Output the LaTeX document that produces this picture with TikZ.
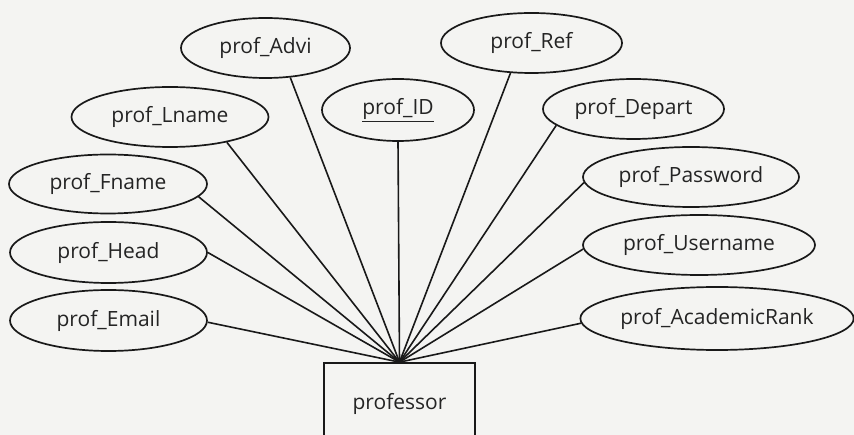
\documentclass[tikz,border=0pt]{standalone}
\usepackage{fontspec}
\setmainfont{Open Sans}
\usetikzlibrary{shapes.geometric}
\definecolor{paper}{RGB}{244,244,242}
\definecolor{ink}{RGB}{25,25,25}
\begin{document}
\begin{tikzpicture}[x=1pt,y=-1pt,
  attr/.style={ellipse,draw=ink,line width=1.7pt,inner sep=0pt,font=\fontsize{21}{24}\selectfont,text=ink!95},
  ent/.style={rectangle,draw=ink,line width=1.7pt,inner sep=0pt,font=\fontsize{21}{24}\selectfont,text=ink!95},
  link/.style={draw=ink,line width=1.6pt}]
\fill[paper] (0,0) rectangle (854,435);
\useasboundingbox (0,0) rectangle (854,435);
\clip (0,0) rectangle (854,435);
\node[ent,minimum width=151pt,minimum height=82pt] (prof) at (399.5,404) {professor};
\coordinate (hub) at (prof.north);
\node[attr,minimum width=169pt,minimum height=60pt] (advi) at (265.5,48) {prof\_Advi};
\node[attr,minimum width=181pt,minimum height=60pt] (ref) at (531.5,43) {prof\_Ref};
\node[attr,minimum width=152pt,minimum height=62pt] (id) at (398,110) {\underline{prof\_ID}};
\node[attr,minimum width=197pt,minimum height=60pt] (lname) at (170,117) {prof\_Lname};
\node[attr,minimum width=181pt,minimum height=60pt] (depart) at (633.5,109) {prof\_Depart};
\node[attr,minimum width=198pt,minimum height=59pt] (fname) at (108,184) {prof\_Fname};
\node[attr,minimum width=216pt,minimum height=60pt] (password) at (691,177) {prof\_Password};
\node[attr,minimum width=197pt,minimum height=61pt] (head) at (108.5,252.5) {prof\_Head};
\node[attr,minimum width=232pt,minimum height=60pt] (username) at (699,245) {prof\_Username};
\node[attr,minimum width=197pt,minimum height=61pt] (email) at (108.5,320.5) {prof\_Email};
\node[attr,minimum width=268pt,minimum height=63pt] (rank) at (717,318.5) {prof\_AcademicRank};
\draw[link] (advi.-50) -- (hub);
\draw[link] (lname.-24) -- (hub);
\draw[link] (fname.-8) -- (hub);
\draw[link] (head.east) -- (hub);
\draw[link] (email.-1) -- (hub);
\draw[link] (id.south) -- (hub);
\draw[link] (ref.-125) -- (hub);
\draw[link] (depart.-168) -- (hub);
\draw[link] (password.-177) -- (hub);
\draw[link] (username.-178) -- (hub);
\draw[link] (rank.-178) -- (hub);
\end{tikzpicture}
\end{document}
